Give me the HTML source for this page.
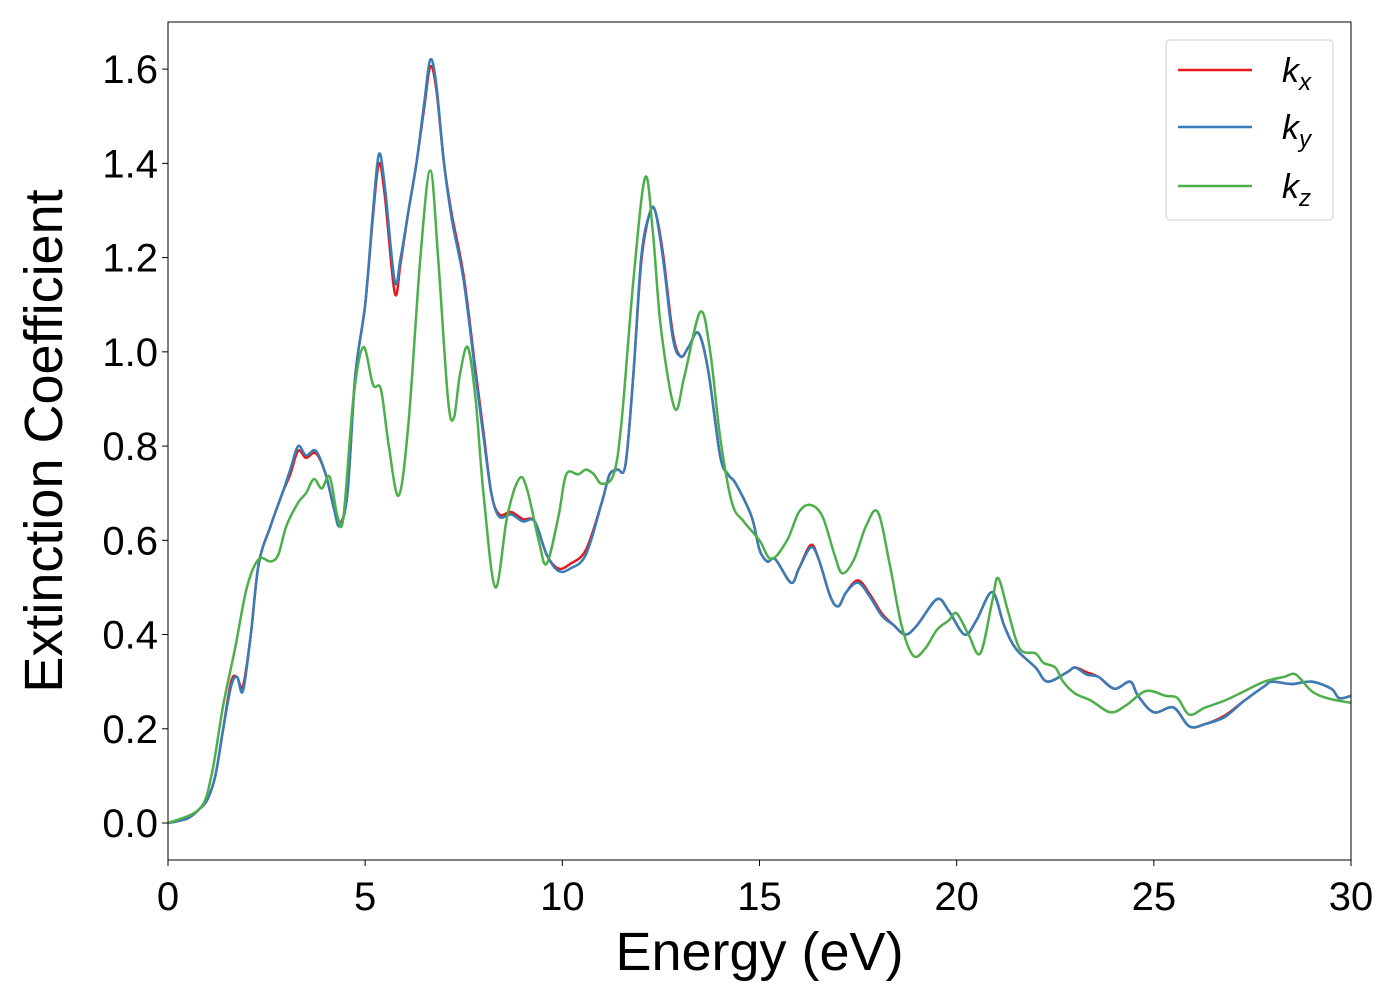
<!DOCTYPE html>
<html><head><meta charset="utf-8"><style>
body{margin:0;background:#fff;}
svg{display:block;font-family:"Liberation Sans","DejaVu Sans",sans-serif;}
</style></head><body>
<svg id="chart" width="1400" height="1000" viewBox="0 0 1400 1000" xmlns="http://www.w3.org/2000/svg">
<rect width="1400" height="1000" fill="#fff"/>
<g id="plot"></g>
<g id="axes"></g>
<g id="legend"></g>
</svg>
<script>
const xTicks=[0,5,10,15,20,25,30];
const yTicks=[0.0,0.2,0.4,0.6,0.8,1.0,1.2,1.4,1.6];
const kyX=[0,0.5,0.8,1.0,1.2,1.4,1.6,1.75,1.9,2.1,2.3,2.6,2.9,3.1,3.3,3.5,3.75,4.0,4.2,4.35,4.55,4.75,5.0,5.2,5.35,5.5,5.75,5.9,6.1,6.3,6.5,6.65,6.8,7.0,7.2,7.5,7.8,8.0,8.2,8.4,8.7,9.0,9.3,9.6,9.9,10.2,10.6,11.0,11.2,11.4,11.6,11.8,12.0,12.2,12.35,12.55,12.8,13.0,13.2,13.45,13.7,14.0,14.2,14.4,14.8,15.0,15.2,15.4,15.8,16.0,16.3,16.5,16.8,17.0,17.2,17.5,17.8,18.1,18.4,18.7,19.0,19.5,19.8,20.2,20.5,20.9,21.2,21.5,22.0,22.3,22.8,23.0,23.3,23.6,24.0,24.4,24.6,25.0,25.5,25.9,26.3,26.8,27.3,27.8,28.0,28.5,29.0,29.5,29.7,30];
const kyY=[0,0.01,0.03,0.05,0.1,0.2,0.29,0.31,0.28,0.4,0.55,0.63,0.7,0.75,0.8,0.78,0.79,0.74,0.67,0.63,0.7,0.95,1.1,1.3,1.42,1.35,1.15,1.2,1.3,1.4,1.53,1.62,1.57,1.4,1.28,1.15,0.95,0.82,0.7,0.65,0.655,0.64,0.64,0.57,0.535,0.54,0.57,0.68,0.74,0.75,0.76,0.95,1.2,1.29,1.3,1.2,1.03,0.99,1.01,1.04,0.96,0.78,0.74,0.72,0.65,0.58,0.555,0.56,0.51,0.54,0.585,0.56,0.48,0.46,0.49,0.51,0.48,0.44,0.42,0.4,0.42,0.475,0.45,0.4,0.43,0.49,0.42,0.37,0.33,0.3,0.32,0.33,0.315,0.31,0.285,0.3,0.27,0.235,0.245,0.205,0.21,0.225,0.26,0.29,0.3,0.295,0.3,0.285,0.265,0.27];
const kxX=kyX.slice();
const kxY=[0,0.01,0.03,0.05,0.1,0.2,0.3,0.31,0.29,0.4,0.55,0.63,0.7,0.74,0.79,0.775,0.785,0.74,0.67,0.635,0.7,0.95,1.1,1.29,1.4,1.33,1.125,1.19,1.3,1.4,1.52,1.605,1.56,1.4,1.29,1.16,0.96,0.83,0.7,0.655,0.66,0.645,0.64,0.57,0.54,0.55,0.58,0.68,0.74,0.75,0.76,0.95,1.19,1.29,1.3,1.21,1.04,0.99,1.01,1.04,0.96,0.78,0.74,0.72,0.65,0.58,0.555,0.56,0.51,0.54,0.59,0.56,0.48,0.46,0.49,0.515,0.485,0.445,0.42,0.4,0.42,0.475,0.45,0.4,0.43,0.49,0.42,0.37,0.33,0.3,0.32,0.33,0.32,0.31,0.285,0.3,0.27,0.235,0.245,0.205,0.21,0.228,0.26,0.29,0.3,0.295,0.3,0.285,0.265,0.27];
const kzX=[0,0.8,1.1,1.4,1.7,2.0,2.3,2.6,2.8,3.0,3.3,3.5,3.7,3.9,4.1,4.3,4.45,4.7,4.95,5.2,5.4,5.6,5.85,6.1,6.4,6.65,6.85,7.1,7.25,7.4,7.6,7.8,8.0,8.3,8.6,8.9,9.1,9.4,9.6,9.9,10.1,10.4,10.6,10.8,11.0,11.3,11.5,11.8,12.1,12.3,12.5,12.85,13.1,13.5,13.75,14.0,14.3,14.6,15.0,15.3,15.7,16.0,16.3,16.6,16.9,17.1,17.4,17.7,18.0,18.3,18.6,18.9,19.2,19.5,19.8,20.0,20.3,20.6,20.9,21.05,21.3,21.6,22.0,22.2,22.5,22.7,23.0,23.4,23.9,24.3,24.8,25.3,25.6,25.9,26.3,26.8,27.3,27.8,28.3,28.6,29.0,29.4,30];
const kzY=[0,0.03,0.1,0.25,0.37,0.5,0.56,0.555,0.57,0.63,0.68,0.7,0.73,0.71,0.735,0.65,0.65,0.9,1.01,0.93,0.92,0.8,0.695,0.85,1.2,1.385,1.2,0.9,0.86,0.95,1.01,0.9,0.7,0.5,0.65,0.73,0.71,0.6,0.55,0.65,0.74,0.74,0.75,0.74,0.72,0.74,0.85,1.15,1.37,1.25,1.05,0.88,0.95,1.085,1.0,0.82,0.68,0.64,0.6,0.56,0.6,0.66,0.675,0.65,0.57,0.53,0.56,0.63,0.66,0.55,0.42,0.355,0.37,0.41,0.43,0.445,0.4,0.36,0.47,0.52,0.45,0.37,0.36,0.34,0.33,0.3,0.275,0.26,0.235,0.25,0.28,0.27,0.265,0.23,0.245,0.26,0.28,0.3,0.31,0.315,0.28,0.265,0.255];

const L=168,R=1351,T=22,B=860;
const xMin=0,xMax=30,yMin=-0.0785,yMax=1.7;
const sx=v=>L+(v-xMin)/(xMax-xMin)*(R-L);
const sy=v=>B-(v-yMin)/(yMax-yMin)*(B-T);
const NS="http://www.w3.org/2000/svg";
function mk(tag,attrs,parent){const e=document.createElementNS(NS,tag);for(const k in attrs)e.setAttribute(k,attrs[k]);parent.appendChild(e);return e;}
function pathD(xs,ys){
  const p=xs.map((x,i)=>[sx(x),sy(ys[i])]);
  let d="M"+p[0][0]+","+p[0][1];
  for(let i=0;i<p.length-1;i++){
    const p0=p[Math.max(i-1,0)],p1=p[i],p2=p[i+1],p3=p[Math.min(i+2,p.length-1)];
    const c1=[p1[0]+(p2[0]-p0[0])/6,p1[1]+(p2[1]-p0[1])/6];
    const c2=[p2[0]-(p3[0]-p1[0])/6,p2[1]-(p3[1]-p1[1])/6];
    d+=" C"+c1[0]+","+c1[1]+" "+c2[0]+","+c2[1]+" "+p2[0]+","+p2[1];
  }
  return d;
}
const plot=document.getElementById('plot');
const axes=document.getElementById('axes');
const cp=mk('clipPath',{id:'clip'},plot);mk('rect',{x:L,y:T,width:R-L,height:B-T},cp);
const lines=[[kxX,kxY,'#e41a1c','kx-line'],[kyX,kyY,'#377eb8','ky-line'],[kzX,kzY,'#4daf4a','kz-line']];
for(const [xs,ys,c,n] of lines){
  const el=mk('path',{d:pathD(xs,ys),fill:'none',stroke:c,'stroke-width':2.5,'clip-path':'url(#clip)'},plot);
  
  
}
const frame=mk('rect',{x:L,y:T,width:R-L,height:B-T,fill:'none',stroke:'#000','stroke-width':1},axes);


for(const t of xTicks){
  const x=sx(t);
  mk('line',{x1:x,x2:x,y1:B,y2:B+6,stroke:'#000','stroke-width':1},axes);
  const tx=mk('text',{x:x,y:B+50,'font-size':40,'text-anchor':'middle'},axes);
  tx.textContent=t;
  
  
}
for(const t of yTicks){
  const y=sy(t);
  mk('line',{x1:L-6,x2:L,y1:y,y2:y,stroke:'#000','stroke-width':1},axes);
  const tx=mk('text',{x:L-10,y:y+14,'font-size':40,'text-anchor':'end'},axes);
  tx.textContent=t.toFixed(1);
  
  
}
const xt=mk('text',{x:(L+R)/2,y:970,'font-size':54,'text-anchor':'middle'},axes);
xt.textContent='Energy (eV)';


const yt=mk('text',{x:0,y:0,'font-size':54,'text-anchor':'middle',transform:'translate(62,441) rotate(-90)'},axes);
yt.textContent='Extinction Coefficient';


const lg=document.getElementById('legend');
mk('rect',{x:1166,y:40,width:167,height:180,rx:4,fill:'#fff',stroke:'#ccc','stroke-width':1},lg);
const labs=[['x','#e41a1c',70],['y','#377eb8',127],['z','#4daf4a',186]];
for(const [s,c,y] of labs){
  const ln=mk('line',{x1:1178,x2:1252,y1:y,y2:y,stroke:c,'stroke-width':2.5},lg);
  
  
  const t=mk('text',{x:1282,y:y+12,'font-size':34,'font-style':'italic'},lg);
  t.innerHTML='k<tspan font-size="24" dy="8">'+s+'</tspan>';
  
  
}
</script>
</body></html>
